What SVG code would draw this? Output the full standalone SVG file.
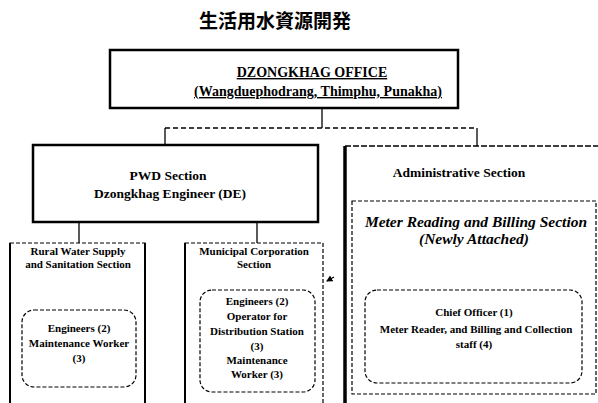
<svg xmlns="http://www.w3.org/2000/svg" width="598" height="403" viewBox="0 0 598 403">
<defs>
<style>
text{font-family:"Liberation Serif","Times New Roman",serif;font-weight:bold;fill:#000;text-anchor:middle}
.title{font-family:"Noto Sans CJK JP","Noto Sans CJK SC",sans-serif;font-size:19px;font-weight:bold}
.big{font-size:14px}
.mid{font-size:13.5px}
.sm{font-size:11px}
.it{font-style:italic;font-size:15.5px}
.solid{fill:#fff;stroke:#000;stroke-width:2.5}
.dash{fill:none;stroke:#000;stroke-width:1.2;stroke-dasharray:4 2}
.line{fill:none;stroke:#000;stroke-width:1.3}
</style>
<marker id="ah" viewBox="0 0 6 6" refX="5" refY="3" markerWidth="5" markerHeight="5" orient="auto"><path d="M0,0 L6,3 L0,6 z" fill="#000"/></marker>
</defs>
<rect width="598" height="403" fill="#fff"/>
<text class="title" x="275" y="28">生活用水資源開発</text>
<g id="connectors">
<line class="line" x1="322" y1="108" x2="322" y2="128"/>
<line class="line" x1="165" y1="128" x2="477" y2="128" stroke-dasharray="5 3"/>
<line class="line" x1="165" y1="128" x2="165" y2="145"/>
<line class="line" x1="477" y1="128" x2="477" y2="146"/>
<line class="line" x1="79" y1="222" x2="79" y2="243"/>
<line class="line" x1="257" y1="222" x2="257" y2="243"/>
<line class="line" x1="334" y1="277" x2="327" y2="281" marker-end="url(#ah)"/>
</g>
<g id="dzongkhag">
<rect class="solid" x="110" y="50" width="348" height="58"/>
<text class="big" x="312" y="77" text-decoration="underline">DZONGKHAG OFFICE</text>
<text class="big" x="318" y="96" text-decoration="underline">(Wangduephodrang, Thimphu, Punakha)</text>
</g>
<g id="pwd">
<rect class="solid" x="33" y="145" width="285" height="77"/>
<text class="mid" x="168" y="180">PWD Section</text>
<text class="mid" x="170" y="198">Dzongkhag Engineer (DE)</text>
</g>
<g id="admin">
<rect x="345" y="146" width="262" height="270" fill="#fff" stroke="#000" stroke-width="1.3" stroke-dasharray="6 2"/>
<line x1="345" y1="146" x2="345" y2="403" stroke="#000" stroke-width="3.5"/>
<text class="mid" x="459" y="177">Administrative Section</text>
</g>
<g id="meter">
<rect class="dash" x="352" y="201" width="244" height="193" stroke-dasharray="3 3"/>
<text class="it" x="476" y="227">Meter Reading and Billing Section</text>
<text class="it" x="474" y="244">(Newly Attached)</text>
</g>
<g id="chief">
<rect class="dash" x="365" y="290" width="217" height="93" rx="12" stroke-dasharray="3 4"/>
<text class="sm" x="474" y="316">Chief Officer (1)</text>
<text class="sm" x="476" y="333">Meter Reader, and Billing and Collection</text>
<text class="sm" x="474" y="348">staff (4)</text>
</g>
<g id="rural">
<rect class="dash" x="10" y="243" width="135" height="175"/>
<line x1="10" y1="243" x2="10" y2="403" stroke="#000" stroke-width="2"/>
<line x1="145" y1="243" x2="145" y2="403" stroke="#000" stroke-width="2"/>
<text class="sm" x="78" y="255">Rural Water Supply</text>
<text class="sm" x="78" y="268">and Sanitation Section</text>
</g>
<g id="rural-staff">
<rect class="dash" x="22" y="310" width="114" height="77" rx="12"/>
<text class="sm" x="79" y="332">Engineers (2)</text>
<text class="sm" x="79" y="347">Maintenance Worker</text>
<text class="sm" x="79" y="362">(3)</text>
</g>
<g id="municipal">
<rect class="dash" x="185" y="243" width="138" height="175"/>
<line x1="185" y1="243" x2="185" y2="403" stroke="#000" stroke-width="2"/>
<text class="sm" x="254" y="255">Municipal Corporation</text>
<text class="sm" x="254" y="268">Section</text>
</g>
<g id="municipal-staff">
<rect class="dash" x="200" y="290" width="115" height="102" rx="12"/>
<text class="sm" x="257" y="305">Engineers (2)</text>
<text class="sm" x="257" y="320">Operator for</text>
<text class="sm" x="257" y="335">Distribution Station</text>
<text class="sm" x="257" y="350">(3)</text>
<text class="sm" x="257" y="364">Maintenance</text>
<text class="sm" x="257" y="378">Worker (3)</text>
</g>
</svg>
